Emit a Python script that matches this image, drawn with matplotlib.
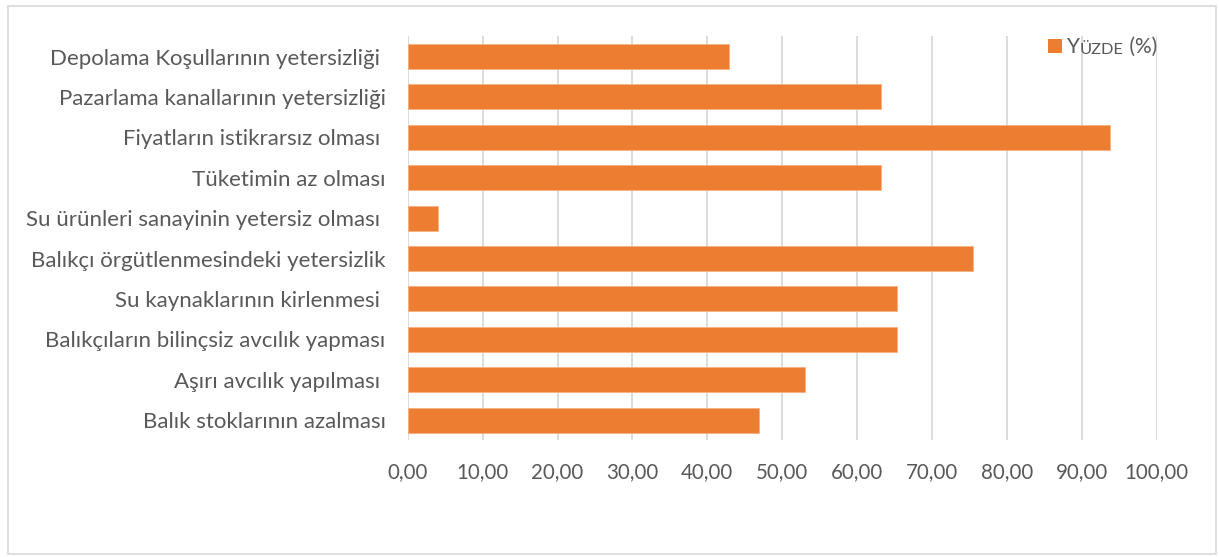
import matplotlib
matplotlib.use("Agg")
import matplotlib.pyplot as plt
from matplotlib.patches import Rectangle

plt.rcParams['font.family'] = ['Lato', 'DejaVu Sans']

categories = [
    "Balık stoklarının azalması",
    "Aşırı avcılık yapılması ",
    "Balıkçıların bilinçsiz avcılık yapması",
    "Su kaynaklarının kirlenmesi ",
    "Balıkçı örgütlenmesindeki yetersizlik",
    "Su ürünleri sanayinin yetersiz olması ",
    "Tüketimin az olması",
    "Fiyatların istikrarsız olması ",
    "Pazarlama kanallarının yetersizliği",
    "Depolama Koşullarının yetersizliği ",
]
values = [46.9, 53.1, 65.3, 65.3, 75.5, 4.1, 63.2, 93.8, 63.2, 42.9]
series_name = "Yüzde (%)"
xticks = [0, 10, 20, 30, 40, 50, 60, 70, 80, 90, 100]
xtick_labels = ["0,00", "10,00", "20,00", "30,00", "40,00", "50,00",
                "60,00", "70,00", "80,00", "90,00", "100,00"]

ORANGE = "#ED7D31"
TXT = "#595959"
GRID = "#D9D9D9"

fig = plt.figure(figsize=(12.19, 5.57), dpi=100)
ax = fig.add_axes([0.3345, 0.2095, 0.9489 - 0.3345, 0.9348 - 0.2095])

ypos = list(range(len(categories)))
ax.barh(ypos, values, height=0.62, color=ORANGE, edgecolor="#F4B183",
        linewidth=0.6, label=series_name, zorder=3)

ax.set_xlim(0, 100)
ax.set_ylim(-0.5, len(categories) - 0.5)
ax.set_yticks(ypos)
ax.set_yticklabels(categories)
ax.set_xticks(xticks)
ax.set_xticklabels(xtick_labels)
ax.tick_params(axis='both', length=0, colors=TXT)
ax.tick_params(axis='y', pad=16, labelsize=16)
ax.tick_params(axis='x', pad=16, labelsize=14.8)
ax.grid(axis='x', color=GRID, linewidth=1.3, zorder=0)
for s in ax.spines.values():
    s.set_visible(False)

# legend (small caps look)
fig.patches.append(Rectangle((1048 / 1219, 1 - 53 / 557), 14 / 1219, 14 / 557,
                             transform=fig.transFigure, facecolor=ORANGE,
                             edgecolor='none'))
t1 = fig.text(1067 / 1219, 1 - 53 / 557, "Y", fontsize=15, color=TXT,
              va='baseline', ha='left')
t2 = ax.annotate("ÜZDE", xy=(1, 0), xycoords=t1, fontsize=11.8, color=TXT,
                 va='bottom', ha='left', annotation_clip=False)
t3 = ax.annotate(" (%)", xy=(1, 0), xycoords=t2, fontsize=15, color=TXT,
                 va='bottom', ha='left', annotation_clip=False)

# outer border
fig.patches.append(Rectangle((8 / 1219, 3 / 557), 1208 / 1219, 548 / 557,
                             transform=fig.transFigure, facecolor='none',
                             edgecolor=GRID, linewidth=1.2))

fig.savefig("out.png", dpi=100)
